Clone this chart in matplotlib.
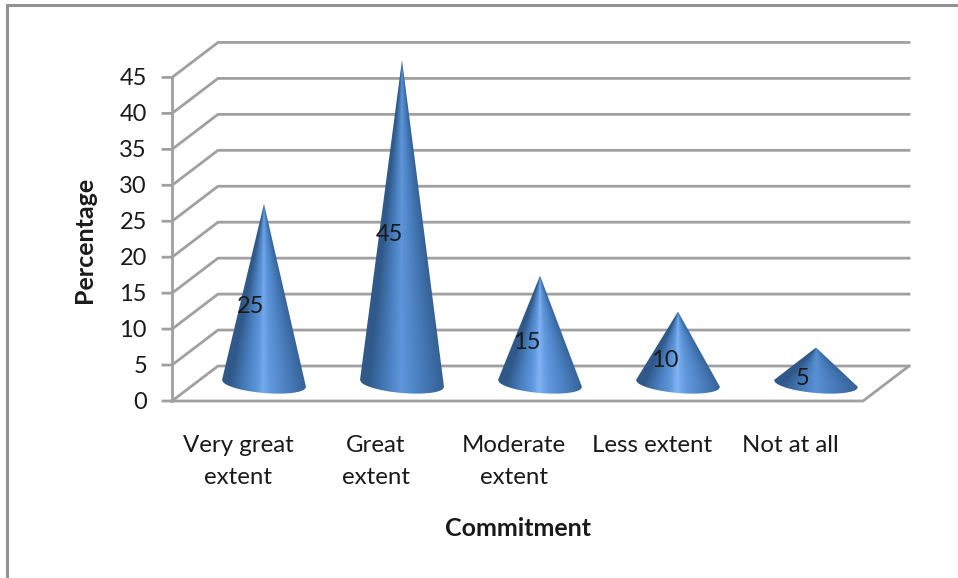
import numpy as np
import matplotlib
matplotlib.use("Agg")
import matplotlib.pyplot as plt
from matplotlib.colors import LinearSegmentedColormap
from matplotlib.path import Path
from matplotlib.patches import PathPatch

categories = ["Very great\nextent", "Great\nextent", "Moderate\nextent", "Less extent", "Not at all"]
values = [25, 45, 15, 10, 5]
y_ticks = [0, 5, 10, 15, 20, 25, 30, 35, 40, 45]
glow = [0.92, 0.74, 1.0, 1.0, 0.66]

plt.rcParams["font.family"] = ["Lato", "DejaVu Sans"]

# one x unit is a category step, one y unit is one percent
PX_X = 138.0
PX_Y = 7.19
DEPTH_X = 46 / PX_X
DEPTH_Y = 35 / PX_Y
LEFT = -92 / PX_X
RIGHT = LEFT + 691 / PX_X
GRID = "#a0a0a0"
INK = "#1a1a1a"

fig = plt.figure(figsize=(9.58, 5.78), dpi=100, facecolor="white")
ax = fig.add_axes([0, 0, 1, 1])

# page border, top and left only
x0, x1 = -264 / PX_X, (958 - 264) / PX_X
y0, y1 = (401 - 578) / PX_Y, 401 / PX_Y
ax.plot([x0 + 7 / PX_X, x0 + 7 / PX_X, x1], [y0, y1 - 5 / PX_Y, y1 - 5 / PX_Y],
        color="#929292", lw=2.2, solid_joinstyle="miter", zorder=1)

# walls and floor
for t in y_ticks:
    ax.plot([LEFT - 9 / PX_X, LEFT, LEFT + DEPTH_X, RIGHT + DEPTH_X],
            [t, t, t + DEPTH_Y, t + DEPTH_Y], color=GRID, lw=2.0, zorder=2)
    ax.text(LEFT - 25 / PX_X, t - 0.2, str(t), ha="right", va="center", fontsize=17, color=INK)
ax.plot([LEFT, LEFT], [0, y_ticks[-1]], color=GRID, lw=2.0, zorder=2)
ax.plot([LEFT, RIGHT, RIGHT + DEPTH_X], [0, 0, DEPTH_Y], color=GRID, lw=2.0, zorder=2)

# cones, shaded by position across the surface so the stripes meet at the tip
shade = LinearSegmentedColormap.from_list(
    "cone", ["#30598a", "#3f70aa", "#4f86c8", "#5f97da", "#7fb4f5"])
BASE = 17.5 / PX_Y
RX = 42 / PX_X
RY = 9.5 / PX_Y
TILT = 3.5 / PX_Y

for i, v in enumerate(values):
    apex = BASE + v
    arc = np.linspace(-1, 1, 60)
    xs = list(i + RX * arc) + [i]
    ys = list(BASE - TILT * arc - RY * np.sqrt(1 - arc ** 2)) + [apex]
    outline = PathPatch(Path(np.column_stack([xs, ys]), closed=False), transform=ax.transData)

    gx = np.linspace(i - RX, i + RX, 170)
    gy = np.linspace(apex, BASE - RY - TILT, 400)
    xx, yy = np.meshgrid(gx, gy)
    half = RX * np.clip((apex - yy) / (apex - BASE), 0.002, 1)
    u = np.clip((xx - i) / half, -1, 1)
    # narrow highlight on the axis, falling off faster towards the left edge
    off = u + 0.02
    level = np.where(off < 0, 1 - np.abs(off / 0.8) ** 0.9, 1 - np.abs(off / 1.15) ** 0.9)
    img = ax.imshow(shade(np.clip(level, 0, 1) * glow[i]),
                    extent=[gx[0], gx[-1], gy[-1], gy[0]], origin="upper",
                    aspect="auto", interpolation="bilinear", zorder=3)
    img.set_clip_path(outline)

    ax.text(i - 13 / PX_X, v / 2 + 0.65, str(v), ha="center", va="center",
            fontsize=17, color=INK, zorder=4)

for i, name in enumerate(categories):
    lines = name.split("\n")
    ax.text(i - 26 / PX_X, -45 / PX_Y, lines[0], ha="center", va="center",
            fontsize=17.3, color=INK)
    if len(lines) > 1:
        ax.text(i - 26 / PX_X, -76 / PX_Y, lines[1], ha="center", va="center",
                fontsize=17.3, color=INK)

ax.text(1.84, -128 / PX_Y, "Commitment", ha="center", va="center",
        fontsize=18, fontweight="bold", color=INK)
ax.text(-180 / PX_X, 161 / PX_Y, "Percentage", ha="center", va="center", rotation=90,
        fontsize=18, fontweight="bold", color=INK)

ax.set_xlim(x0, x1)
ax.set_ylim(y0, y1)
ax.axis("off")

plt.savefig("out.png", dpi=100, facecolor="white")
